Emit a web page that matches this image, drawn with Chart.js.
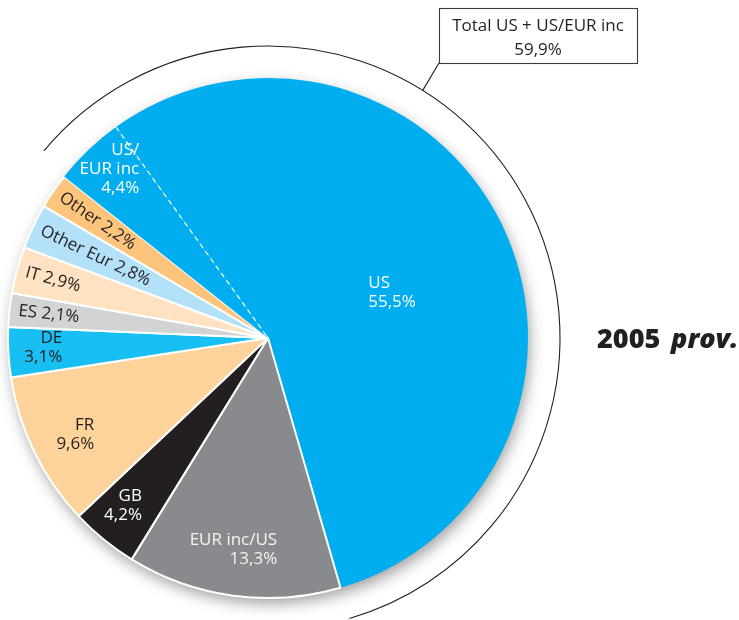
<!DOCTYPE html>
<html>
<head>
<meta charset="utf-8">
<script src="https://cdn.jsdelivr.net/npm/chart.js@4.4.1/dist/chart.umd.min.js"></script>
<style>
  html, body { margin: 0; padding: 0; background: #fff; }
  #wrap { position: relative; width: 739px; height: 620px; }
</style>
</head>
<body>
<div id="wrap"><canvas id="pie"></canvas></div>
<script>
// quote per area, 2005 provvisorio (ordine orario a partire da US)
const slices = ['US', 'EUR inc/US', 'GB', 'FR', 'DE', 'ES', 'IT', 'Other Eur', 'Other', 'US/EUR inc'];
const shares = [55.5, 13.3, 4.2, 9.6, 3.1, 2.1, 2.9, 2.8, 2.2, 4.4];
const shareText = ['55,5%', '13,3%', '4,2%', '9,6%', '3,1%', '2,1%', '2,9%', '2,8%', '2,2%', '4,4%'];
const totalLabel = ['Total US + US/EUR inc', '59,9%'];
const yearLabel = ['2005', 'prov.'];

const FONT = "'Open Sans', 'Noto Sans', sans-serif";
const DARK = '#231f20';
const colors = ['#00aeef', '#898a8d', '#231f20', '#fdd39b', '#17bff2', '#d1d3d4', '#fee2c1', '#b3e2f8', '#fdc57c', '#00aeef'];
const borders = [0, 2, 2, 2, 2, 2, 2, 2, 2, 0];

// dove mettere le etichette: r in px dal centro, da = scarto in gradi dall'angolo medio
const place = {
  'US':         { r: 110, da: 1.7,  align: 'left',  color: '#fff' },
  'EUR inc/US': { r: 212, da: -10.2, align: 'right', color: '#f4f4f4' },
  'GB':         { r: 210, da: -2.3, align: 'right', color: '#fff' },
  'FR':         { r: 199, da: -3.2, align: 'right', color: DARK },
  'DE':         { r: 206, da: 0.6,  align: 'right', color: DARK },
  'ES':         { r: 251, radial: true, color: DARK },
  'IT':         { r: 251, radial: true, color: DARK },
  'Other Eur':  { r: 251, radial: true, color: DARK },
  'Other':      { r: 251, radial: true, color: DARK },
  'US/EUR inc': { r: 212, da: 6.3,  align: 'right', color: '#fff', lines: ['US/', 'EUR inc'] },
};

const deg = Math.PI / 180;

// ombra morbida sotto la torta
const shadowPlugin = {
  id: 'pieShadow',
  beforeDatasetsDraw(chart) {
    const a = chart.getDatasetMeta(0).data[0];
    const ctx = chart.ctx;
    ctx.save();
    ctx.shadowColor = 'rgba(0,0,0,0.4)';
    ctx.shadowBlur = 15;
    ctx.shadowOffsetX = 2;
    ctx.shadowOffsetY = 6;
    ctx.fillStyle = '#fff';
    ctx.beginPath();
    ctx.arc(a.x, a.y, a.outerRadius - 1, 0, Math.PI * 2);
    ctx.fill();
    ctx.restore();
  }
};

const decorPlugin = {
  id: 'decor',
  afterDatasetsDraw(chart) {
    const ctx = chart.ctx;
    const arcs = chart.getDatasetMeta(0).data;
    const us = arcs[0], usEur = arcs[arcs.length - 1];
    const cx = us.x, cy = us.y, R = us.outerRadius;

    // linea tratteggiata fra US e US/EUR inc
    ctx.save();
    ctx.strokeStyle = '#fff';
    ctx.lineWidth = 1.2;
    ctx.setLineDash([5, 4]);
    ctx.beginPath();
    ctx.moveTo(cx + R * Math.cos(us.startAngle), cy + R * Math.sin(us.startAngle));
    ctx.lineTo(cx, cy);
    ctx.stroke();
    ctx.restore();

    // arco esterno che raggruppa US + US/EUR inc
    const Ro = R + 32;
    ctx.save();
    ctx.strokeStyle = DARK;
    ctx.lineWidth = 1.1;
    ctx.beginPath();
    ctx.arc(cx, cy, Ro, usEur.startAngle + 1.5 * deg, us.endAngle);
    ctx.stroke();

    // richiamo + box
    const box = { x: 439, y: 8, w: 198, h: 55 };
    const la = 32 * deg - Math.PI / 2;
    ctx.beginPath();
    ctx.moveTo(cx + Ro * Math.cos(la), cy + Ro * Math.sin(la));
    ctx.lineTo(box.x, box.y + box.h);
    ctx.stroke();
    ctx.fillStyle = '#fff';
    ctx.fillRect(box.x, box.y, box.w, box.h);
    ctx.strokeStyle = '#3a3a3a';
    ctx.strokeRect(box.x + 0.5, box.y + 0.5, box.w, box.h);
    ctx.fillStyle = DARK;
    ctx.font = '17px ' + FONT;
    ctx.textAlign = 'center';
    ctx.textBaseline = 'middle';
    ctx.fillText(totalLabel[0], box.x + box.w / 2, box.y + 18);
    ctx.fillText(totalLabel[1], box.x + box.w / 2, box.y + 42);
    ctx.restore();

    // etichette delle fette
    ctx.save();
    ctx.font = '17px ' + FONT;
    ctx.textBaseline = 'middle';
    arcs.forEach((arc, i) => {
      const name = slices[i], p = place[name];
      const mid = (arc.startAngle + arc.endAngle) / 2;
      ctx.fillStyle = p.color;
      if (p.radial) {
        ctx.save();
        ctx.translate(cx + p.r * Math.cos(mid), cy + p.r * Math.sin(mid));
        ctx.rotate(mid + Math.PI);
        ctx.textAlign = 'left';
        ctx.fillText(name + ' ' + shareText[i], 0, 0);
        ctx.restore();
        return;
      }
      const a = mid + p.da * deg;
      const x = cx + p.r * Math.cos(a), y = cy + p.r * Math.sin(a);
      const lines = (p.lines || [name]).concat(shareText[i]);
      const lh = 19;
      ctx.textAlign = p.align;
      lines.forEach((t, k) => ctx.fillText(t, x, y + (k - (lines.length - 1) / 2) * lh));
    });
    ctx.restore();

    // anno
    ctx.save();
    ctx.fillStyle = DARK;
    ctx.textBaseline = 'alphabetic';
    ctx.textAlign = 'left';
    ctx.font = '800 27px ' + FONT;
    ctx.fillText(yearLabel[0], 597, 348);
    ctx.font = 'italic 800 27px ' + FONT;
    ctx.fillText(yearLabel[1], 671, 348);
    ctx.restore();
  }
};

new Chart(document.getElementById('pie'), {
  type: 'pie',
  data: {
    labels: slices,
    datasets: [{
      data: shares,
      backgroundColor: colors,
      borderColor: '#fff',
      borderWidth: borders,
      radius: 260,
    }]
  },
  options: {
    responsive: true,
    maintainAspectRatio: false,
    animation: false,
    rotation: -35.8,
    layout: { padding: { left: 8, right: 211, top: 78, bottom: 22 } },
    plugins: { legend: { display: false }, tooltip: { enabled: false } },
  },
  plugins: [shadowPlugin, decorPlugin],
});
</script>
</body>
</html>
